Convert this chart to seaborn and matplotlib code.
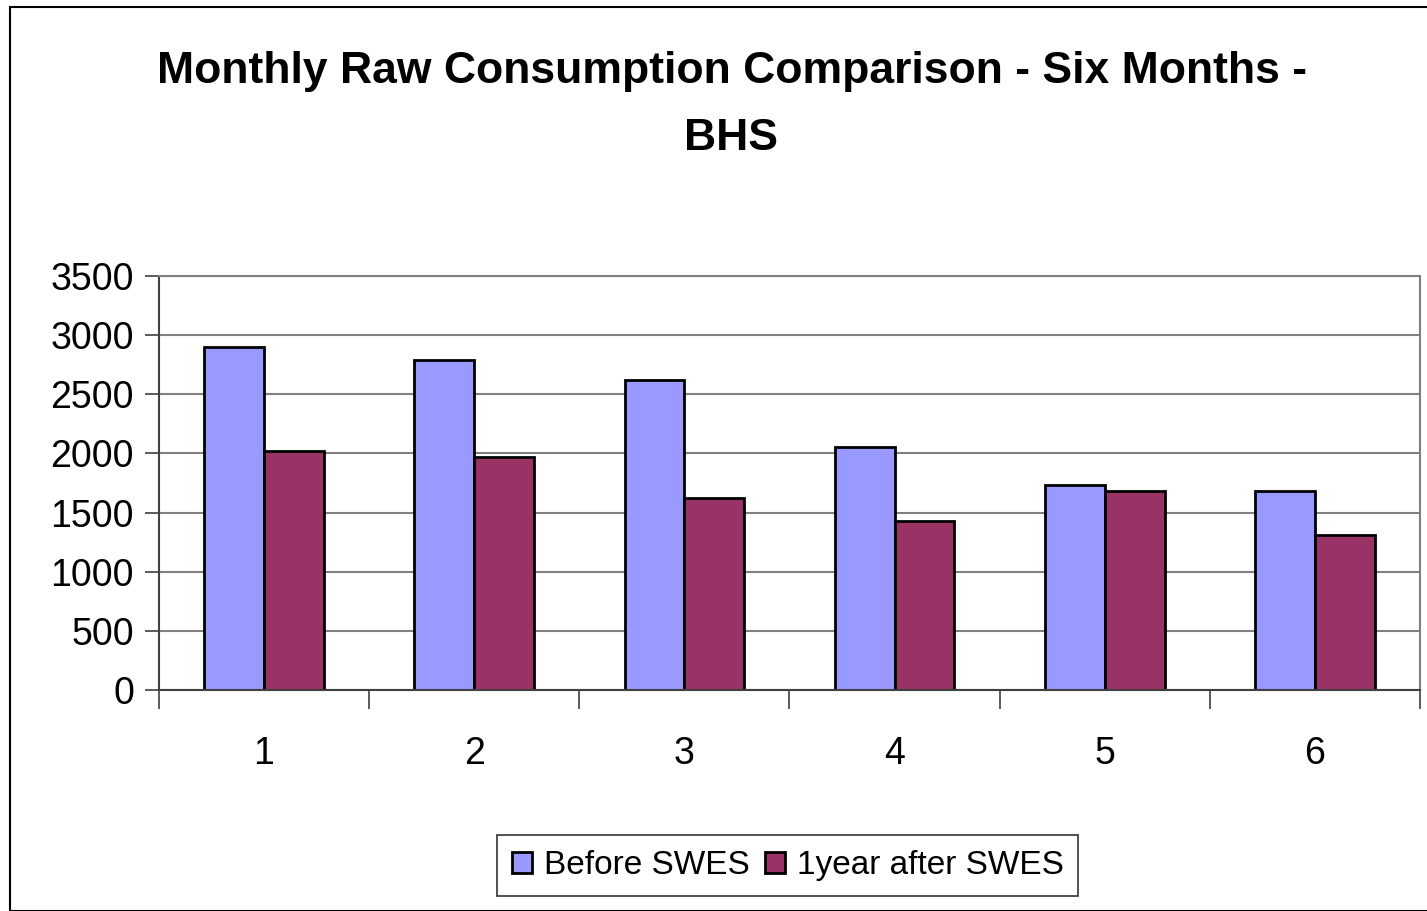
import pandas as pd
import numpy as np
import seaborn as sns
import matplotlib.pyplot as plt
from matplotlib.patches import Rectangle

months = ["1", "2", "3", "4", "5", "6"]
before_swes = [2900, 2790, 2620, 2055, 1735, 1680]
after_swes = [2020, 1970, 1620, 1425, 1680, 1310]
series = ["Before SWES", "1year after SWES"]

df = pd.DataFrame({
    "month": months * 2,
    "value": before_swes + after_swes,
    "series": [series[0]] * 6 + [series[1]] * 6,
})

sns.set_style("white")
plt.rcParams['font.family'] = ['Liberation Sans', 'DejaVu Sans']
plt.rcParams['text.color'] = 'black'
plt.rcParams['xtick.color'] = 'black'
plt.rcParams['ytick.color'] = 'black'

fig = plt.figure(figsize=(14.27, 9.11), dpi=100)
ax = fig.add_axes([0.1114, 0.2426, 0.8837, 0.4545])

sns.barplot(data=df, x="month", y="value", hue="series", order=months,
            hue_order=series, palette=["#9999FF", "#993366"], width=0.57,
            edgecolor="black", linewidth=2, saturation=1, ax=ax)

ax.set_ylim(0, 3500)
ax.set_xlim(-0.5, 5.5)
ax.set_yticks(np.arange(0, 3501, 500))
ax.yaxis.grid(True, color="#808080", linewidth=1.5)
ax.set_axisbelow(True)
ax.set_xlabel("")
ax.set_ylabel("")

ax.tick_params(axis="y", labelsize=27, length=10, width=1.2, color="#404040",
               labelcolor="black", left=True, pad=8)
ax.tick_params(axis="x", which="major", labelsize=27, length=0, pad=33,
               labelcolor="black")
ax.set_xticks(np.arange(-0.5, 5.6, 1), minor=True)
ax.tick_params(axis="x", which="minor", length=14, width=1.2, color="#404040",
               bottom=True)

for side in ["left", "bottom"]:
    ax.spines[side].set_color("#404040")
    ax.spines[side].set_linewidth(1.5)
for side in ["top", "right"]:
    ax.spines[side].set_color("#808080")
    ax.spines[side].set_linewidth(1.5)

fig.text(0.513, 0.921, "Monthly Raw Consumption Comparison - Six Months -",
         ha="center", va="center", fontsize=32, fontweight="bold", color="black")
fig.text(0.512, 0.848, "BHS", ha="center", va="center",
         fontsize=32, fontweight="bold", color="black")

leg = ax.legend(loc="center", bbox_to_anchor=(0.4988, -0.425), ncol=2,
                fontsize=24, frameon=True, fancybox=False, edgecolor="black",
                handlelength=0.6, handleheight=0.6, handletextpad=0.35,
                columnspacing=0.45, borderpad=0.45)
leg.get_frame().set_linewidth(1.2)
for t in leg.get_texts():
    t.set_color("black")

fig.patches.append(Rectangle((0.007, 0.0), 0.995, 0.992, transform=fig.transFigure,
                             fill=False, edgecolor="black", linewidth=1.5))

fig.savefig("out.png", dpi=100)
plt.close(fig)
